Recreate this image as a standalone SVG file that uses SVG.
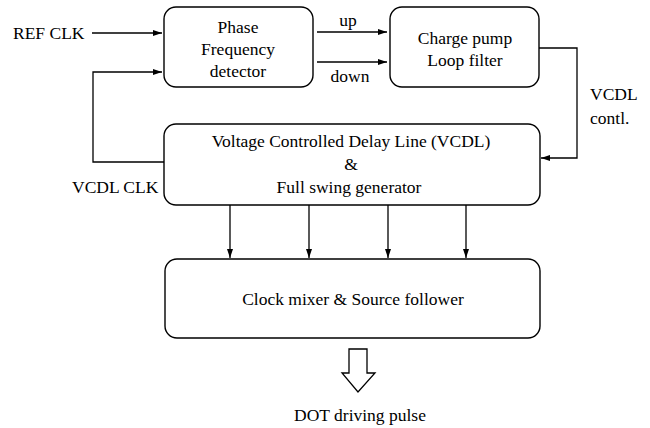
<svg xmlns="http://www.w3.org/2000/svg" width="650" height="428" viewBox="0 0 650 428" font-family="'Liberation Serif', 'DejaVu Serif', serif">
  <style>
    .box { fill: #fff; stroke: #000; stroke-width: 1.4; }
    .wire { fill: none; stroke: #000; stroke-width: 1.3; }
    text { font-family: 'Liberation Serif', 'Times New Roman', 'DejaVu Serif', serif; font-size: 17.5px; fill: #000; }
    .c { text-anchor: middle; }
  </style>
  <defs>
    <marker id="ah" markerWidth="10" markerHeight="8" refX="9" refY="4" orient="auto" markerUnits="userSpaceOnUse">
      <path d="M0,1 L9,4 L0,7 Z" fill="#000"/>
    </marker>
  </defs>
  <rect width="650" height="428" fill="#fff"/>

  <!-- signal wires -->
  <g id="connectors">
    <line class="wire" x1="92" y1="33" x2="162" y2="33" marker-end="url(#ah)"/>
    <polyline class="wire" points="164,162 93,162 93,72 162,72" marker-end="url(#ah)"/>
    <line class="wire" x1="317" y1="32" x2="387" y2="32" marker-end="url(#ah)"/>
    <line class="wire" x1="317" y1="62" x2="387" y2="62" marker-end="url(#ah)"/>
    <polyline class="wire" points="539,48 577,48 577,158 541,158" marker-end="url(#ah)"/>
    <line class="wire" x1="230" y1="205" x2="230" y2="258" marker-end="url(#ah)"/>
    <line class="wire" x1="309" y1="205" x2="309" y2="258" marker-end="url(#ah)"/>
    <line class="wire" x1="388" y1="205" x2="388" y2="258" marker-end="url(#ah)"/>
    <line class="wire" x1="466" y1="205" x2="466" y2="258" marker-end="url(#ah)"/>
    <path class="wire" d="M349,349 L367,349 L367,373 L375,373 L358,392 L342,373 L349,373 Z"/>
  </g>

  <!-- wire labels -->
  <g id="labels">
    <text x="13" y="39">REF CLK</text>
    <text x="72" y="193">VCDL CLK</text>
    <text class="c" x="348" y="26">up</text>
    <text class="c" x="350" y="82">down</text>
    <text x="590" y="100">VCDL</text>
    <text x="590" y="124">contl.</text>
    <text class="c" x="360" y="421">DOT driving pulse</text>
  </g>

  <g id="pfd">
    <rect class="box" x="164" y="7" width="149" height="80" rx="12"/>
    <text class="c" x="238" y="33">Phase</text>
    <text class="c" x="238" y="55">Frequency</text>
    <text class="c" x="238" y="77">detector</text>
  </g>

  <g id="charge-pump">
    <rect class="box" x="390" y="7" width="149" height="80" rx="12"/>
    <text class="c" x="465" y="44">Charge pump</text>
    <text class="c" x="465" y="66">Loop filter</text>
  </g>

  <g id="vcdl">
    <rect class="box" x="164" y="124" width="376" height="81" rx="12"/>
    <text class="c" x="351" y="147">Voltage Controlled Delay Line (VCDL)</text>
    <text class="c" x="351" y="170">&amp;</text>
    <text class="c" x="349" y="193">Full swing generator</text>
  </g>

  <g id="clock-mixer">
    <rect class="box" x="165" y="259" width="375" height="79" rx="12"/>
    <text class="c" x="353" y="305">Clock mixer &amp; Source follower</text>
  </g>
</svg>
